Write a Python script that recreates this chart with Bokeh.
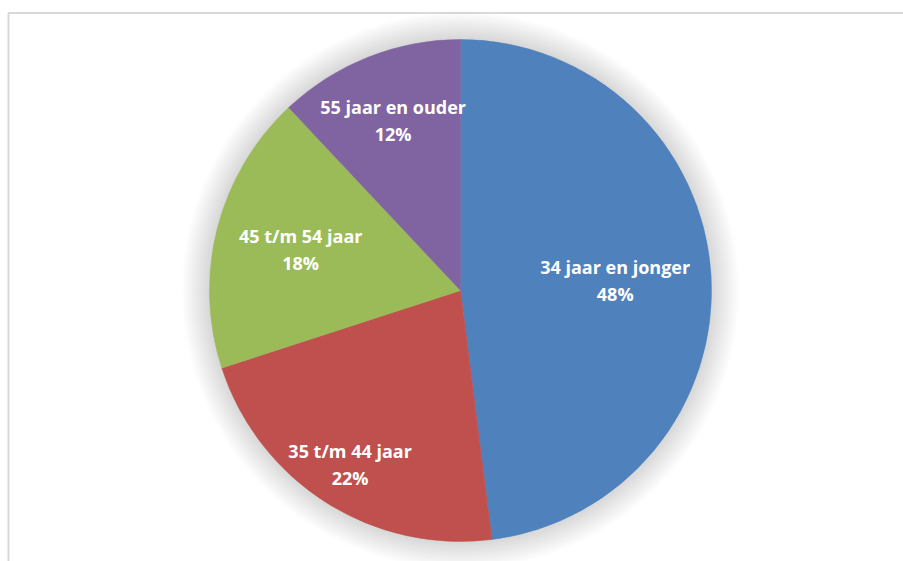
import numpy as np
from bokeh.plotting import figure
from bokeh.models import Range1d, ColumnDataSource
from bokeh.core.properties import value
from bokeh.embed import file_html
from bokeh.resources import INLINE

categories = ["34 jaar en jonger", "35 t/m 44 jaar", "45 t/m 54 jaar", "55 jaar en ouder"]
shares = [48, 22, 18, 12]
colors = ["#4f81bd", "#c0504d", "#9bbb59", "#8064a2"]
label_dist = [155, 206, 165, 183]

W, H = 903, 561
p = figure(width=W, height=H, output_backend="svg", toolbar_location=None,
           x_range=Range1d(0, W), y_range=Range1d(0, H), min_border=0)
p.axis.visible = False
p.grid.visible = False
p.outline_line_color = None
p.background_fill_color = "white"
p.border_fill_color = "white"

# chart border (top and left visible)
p.line([8, 8, W], [0, H - 12.5, H - 12.5], line_color="#d9d9d9", line_width=2)

cx, cy, r = 460, 271, 251

# soft shadow
for k in range(20):
    p.circle(x=cx, y=cy, radius=r + 1 + k * 1.4, fill_color="black", fill_alpha=0.007, line_color=None)

vals = np.array(shares, dtype=float)
frac = vals / vals.sum()
cum_end = np.cumsum(frac)
cum_start = cum_end - frac
start = np.pi / 2 - cum_end * 2 * np.pi
end = np.pi / 2 - cum_start * 2 * np.pi
mid = (cum_start + cum_end) / 2 * 2 * np.pi

src = ColumnDataSource(dict(start=start, end=end, color=colors))
p.wedge(x=cx, y=cy, radius=r, start_angle="start", end_angle="end", fill_color="color",
        line_color="color", line_width=0.5, source=src)

lx = cx + np.array(label_dist) * np.sin(mid)
ly = cy + np.array(label_dist) * np.cos(mid)
pct = [f"{int(round(f * 100))}%" for f in frac]
tsrc = ColumnDataSource(dict(x=lx, y=ly, cat=categories, pct=pct))
common = dict(source=tsrc, text_align="center", text_baseline="middle", text_color="white",
              text_font=value("Open Sans"), text_font_style="bold", text_font_size="18px")
p.text(x="x", y="y", text="cat", y_offset=-13.5, **common)
p.text(x="x", y="y", text="pct", y_offset=13.5, **common)

open("out.html", "w").write(file_html(p, INLINE))
